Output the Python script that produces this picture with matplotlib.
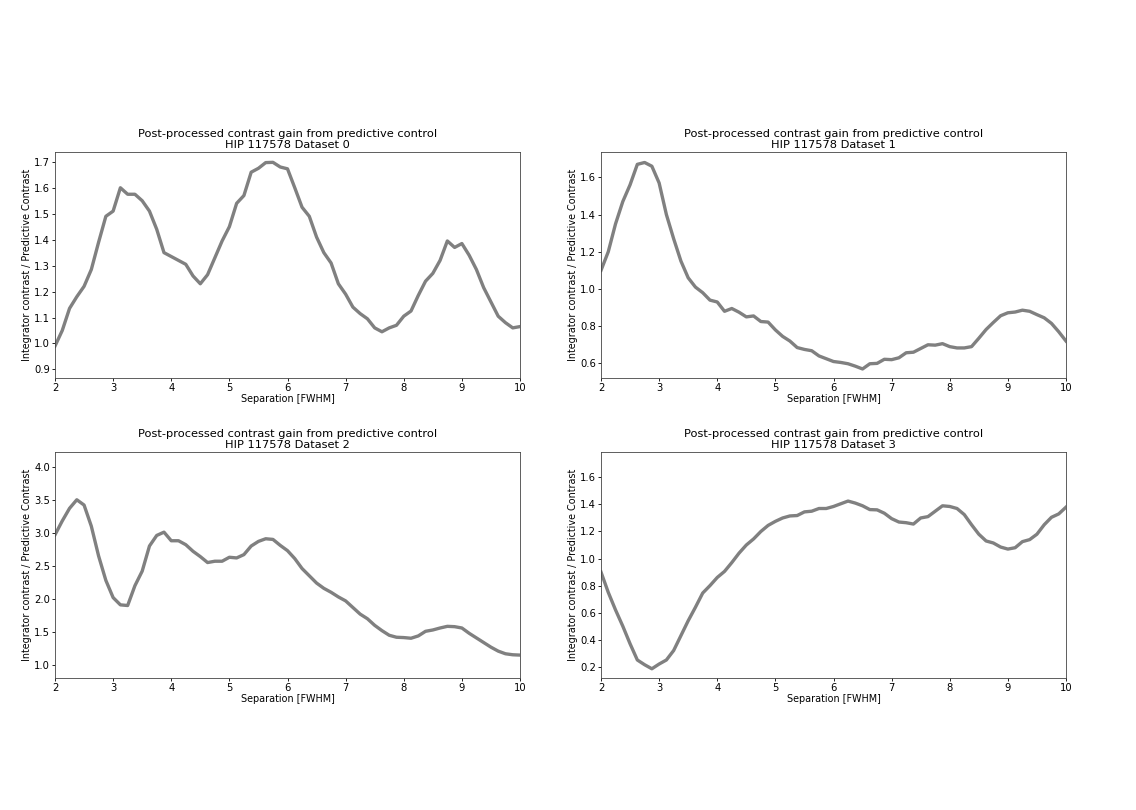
import numpy as np
import matplotlib
matplotlib.use("Agg")
import matplotlib.pyplot as plt

# separation grid, FWHM
separation = np.arange(2.0, 10.0001, 0.125)

gain_dataset0 = [
    0.99, 1.05, 1.135, 1.18, 1.22, 1.285, 1.39, 1.49, 1.51, 1.60,
    1.575, 1.575, 1.55, 1.51, 1.44, 1.35, 1.335, 1.32, 1.305, 1.26,
    1.23, 1.265, 1.33, 1.395, 1.45, 1.54, 1.57, 1.66, 1.675, 1.697,
    1.698, 1.68, 1.673, 1.60, 1.525, 1.49, 1.41, 1.35, 1.31, 1.23,
    1.19, 1.14, 1.115, 1.095, 1.06, 1.045, 1.06, 1.07, 1.105, 1.125,
    1.185, 1.24, 1.27, 1.32, 1.395, 1.37, 1.385, 1.34, 1.285, 1.215,
    1.16, 1.105, 1.08, 1.06, 1.065,
]
gain_dataset1 = [
    1.10, 1.20, 1.35, 1.47, 1.56, 1.67, 1.68, 1.66, 1.57, 1.40,
    1.27, 1.15, 1.06, 1.01, 0.98, 0.94, 0.93, 0.88, 0.895, 0.875,
    0.85, 0.855, 0.825, 0.822, 0.78, 0.745, 0.72, 0.685, 0.675, 0.668,
    0.64, 0.625, 0.61, 0.605, 0.598, 0.585, 0.57, 0.598, 0.60, 0.622,
    0.62, 0.63, 0.657, 0.66, 0.68, 0.70, 0.698, 0.706, 0.69, 0.683,
    0.683, 0.69, 0.735, 0.782, 0.82, 0.856, 0.872, 0.876, 0.886, 0.88,
    0.862, 0.845, 0.815, 0.77, 0.72,
]
gain_dataset2 = [
    2.97, 3.18, 3.37, 3.50, 3.42, 3.10, 2.65, 2.28, 2.02, 1.91,
    1.90, 2.20, 2.42, 2.80, 2.96, 3.01, 2.88, 2.88, 2.82, 2.72,
    2.64, 2.55, 2.57, 2.57, 2.63, 2.62, 2.67, 2.80, 2.87, 2.91,
    2.90, 2.81, 2.73, 2.61, 2.46, 2.35, 2.24, 2.16, 2.10, 2.03,
    1.97, 1.87, 1.77, 1.70, 1.60, 1.52, 1.45, 1.42, 1.415, 1.405,
    1.44, 1.51, 1.53, 1.56, 1.585, 1.58, 1.56, 1.48, 1.41, 1.34,
    1.27, 1.21, 1.17, 1.155, 1.15,
]
gain_dataset3 = [
    0.90, 0.75, 0.62, 0.50, 0.37, 0.25, 0.215, 0.185, 0.22, 0.25,
    0.32, 0.43, 0.54, 0.64, 0.745, 0.80, 0.86, 0.905, 0.97, 1.04,
    1.10, 1.145, 1.20, 1.245, 1.275, 1.30, 1.315, 1.318, 1.345, 1.35,
    1.37, 1.37, 1.385, 1.405, 1.425, 1.41, 1.39, 1.362, 1.36, 1.335,
    1.295, 1.27, 1.265, 1.255, 1.30, 1.31, 1.35, 1.39, 1.385, 1.37,
    1.325, 1.25, 1.18, 1.13, 1.115, 1.085, 1.07, 1.08, 1.125, 1.14,
    1.18, 1.25, 1.305, 1.33, 1.38,
]

datasets = [gain_dataset0, gain_dataset1, gain_dataset2, gain_dataset3]
ylims = [(0.868, 1.739), (0.523, 1.738), (0.808, 4.227), (0.119, 1.79)]
yticks = [
    np.arange(0.9, 1.71, 0.1),
    np.arange(0.6, 1.61, 0.2),
    np.arange(1.0, 4.01, 0.5),
    np.arange(0.2, 1.61, 0.2),
]

W, H = 1136, 810
fig = plt.figure(figsize=(W / 100, H / 100), dpi=100)

# axes boxes in pixels: left, top, right, bottom
boxes = [
    (55, 151.7, 520, 377.7),
    (601, 151.7, 1066, 377.7),
    (55, 451.7, 520, 677.7),
    (601, 451.7, 1066, 677.7),
]

fs = 6.9
for i, (data, box) in enumerate(zip(datasets, boxes)):
    l, t, r, b = box
    ax = fig.add_axes([l / W, 1 - b / H, (r - l) / W, (b - t) / H])
    ax.plot(separation, data, color='grey', linewidth=2.4)
    ax.set_xlim(2, 10)
    ax.set_ylim(*ylims[i])
    ax.set_yticks(yticks[i])
    ax.set_yticklabels(['%.1f' % v for v in yticks[i]])
    ax.set_xticks(range(2, 11))
    ax.tick_params(labelsize=fs + 0.3, length=2.5, width=0.6, pad=1)
    for s in ax.spines.values():
        s.set_linewidth(0.6)
        s.set_color('#444444')
    ax.set_xlabel('Separation [FWHM]', fontsize=fs, labelpad=1)
    ax.set_ylabel('Integrator contrast / Predictive Contrast', fontsize=fs, labelpad=1.5)
    ax.set_title('Post-processed contrast gain from predictive control\nHIP 117578 Dataset %d' % i,
                 fontsize=8.2, linespacing=1.15, pad=2.5)

fig.savefig('out.png', dpi=100)
